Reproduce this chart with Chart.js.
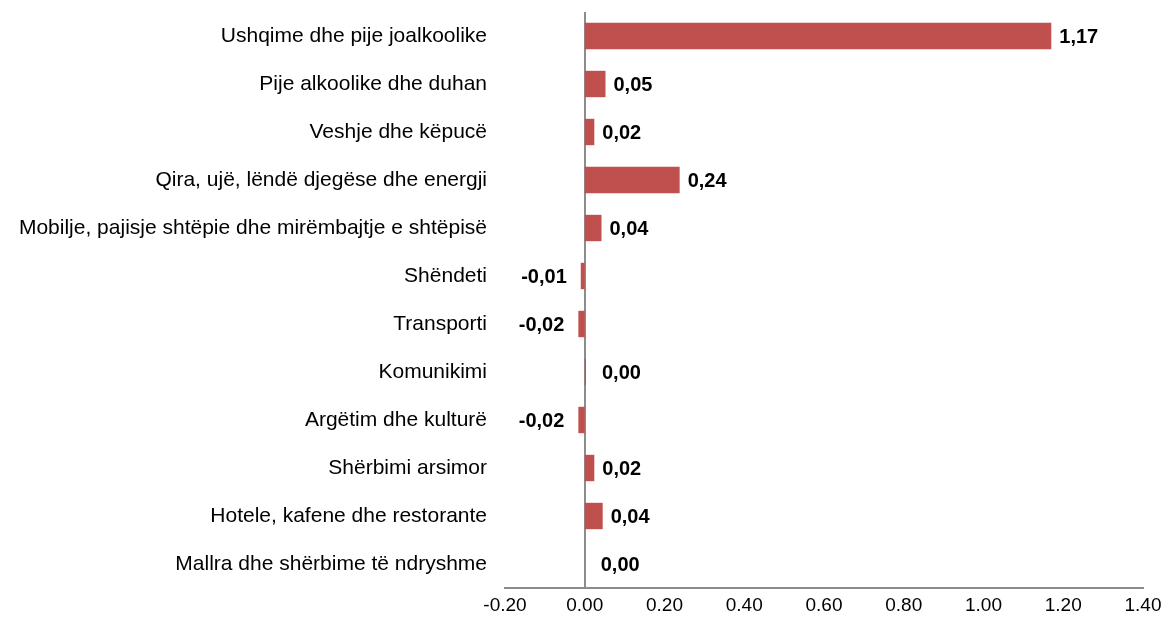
<!DOCTYPE html>
<html lang="sq">
  <head>
    <meta charset="UTF-8" />
    <title>Kontributi sipas grupeve</title>
    <style>
      body { margin: 0; background: #fff; }
      #wrap { width: 1168px; height: 623px; }
    </style>
  </head>
  <body>
    <div id="wrap"><canvas id="my-chart"></canvas></div>

    <script src="https://cdn.jsdelivr.net/npm/chart.js"></script>
    <script>
      const categories = [
        "Ushqime dhe pije joalkoolike",
        "Pije alkoolike dhe duhan",
        "Veshje dhe këpucë",
        "Qira, ujë, lëndë djegëse dhe energji",
        "Mobilje, pajisje shtëpie dhe mirëmbajtje e shtëpisë",
        "Shëndeti",
        "Transporti",
        "Komunikimi",
        "Argëtim dhe kulturë",
        "Shërbimi arsimor",
        "Hotele, kafene dhe restorante",
        "Mallra dhe shërbime të ndryshme",
      ];
      const values = [1.17, 0.052, 0.024, 0.238, 0.042, -0.01, -0.016, 0.003, -0.016, 0.024, 0.045, 0.0];
      const xMin = -0.2;
      const xMax = 1.4;
      const xStep = 0.2;

      const FONT = "'Liberation Sans', Arial, sans-serif";

      // bold value labels next to each bar, comma as decimal mark
      const valueLabels = {
        id: "valueLabels",
        afterDatasetsDraw(chart) {
          const ctx = chart.ctx;
          const meta = chart.getDatasetMeta(0);
          ctx.save();
          ctx.font = "bold 20px " + FONT;
          ctx.fillStyle = "#000";
          ctx.textBaseline = "middle";
          meta.data.forEach((bar, i) => {
            const v = values[i];
            const txt = v.toFixed(2).replace(".", ",").replace("-0,00", "0,00");
            if (v < -0.001) {
              ctx.textAlign = "right";
              ctx.fillText(txt, bar.x - 14, bar.y + 1);
            } else {
              ctx.textAlign = "left";
              const off = Math.abs(v) < 0.01 ? 16 : 8;
              ctx.fillText(txt, bar.x + off, bar.y + 1);
            }
          });
          ctx.restore();
        },
      };

      new Chart(document.getElementById("my-chart"), {
        type: "bar",
        data: {
          labels: categories,
          datasets: [
            {
              data: values,
              backgroundColor: "#C0504D",
              barPercentage: 0.55,
              categoryPercentage: 1,
            },
          ],
        },
        options: {
          indexAxis: "y",
          responsive: true,
          maintainAspectRatio: false,
          animation: false,
          layout: { padding: { left: 10, right: 25, top: 12, bottom: 0 } },
          plugins: {
            legend: { display: false },
            tooltip: { enabled: false },
          },
          scales: {
            x: {
              min: xMin,
              max: xMax,
              afterFit(scale) {
                scale.height = 35;
              },
              ticks: {
                stepSize: xStep,
                color: "#000",
                padding: 6,
                font: { family: FONT, size: 19 },
                callback: (v) => (Math.round(v * 100) / 100).toFixed(2),
              },
              grid: {
                drawTicks: false,
                color: (c) => (c.tick && Math.abs(c.tick.value) < 1e-9 ? "#8c8c8c" : "rgba(0,0,0,0)"),
                lineWidth: 2,
              },
              border: { display: true, color: "#8c8c8c", width: 2 },
            },
            y: {
              afterFit(scale) {
                scale.width = 495;
                scale.paddingTop = 0;
                scale.paddingBottom = 0;
              },
              ticks: {
                color: "#000",
                padding: 18,
                font: { family: FONT, size: 21 },
              },
              grid: { display: false, drawTicks: false },
              border: { display: false },
            },
          },
        },
        plugins: [valueLabels],
      });
    </script>
  </body>
</html>
